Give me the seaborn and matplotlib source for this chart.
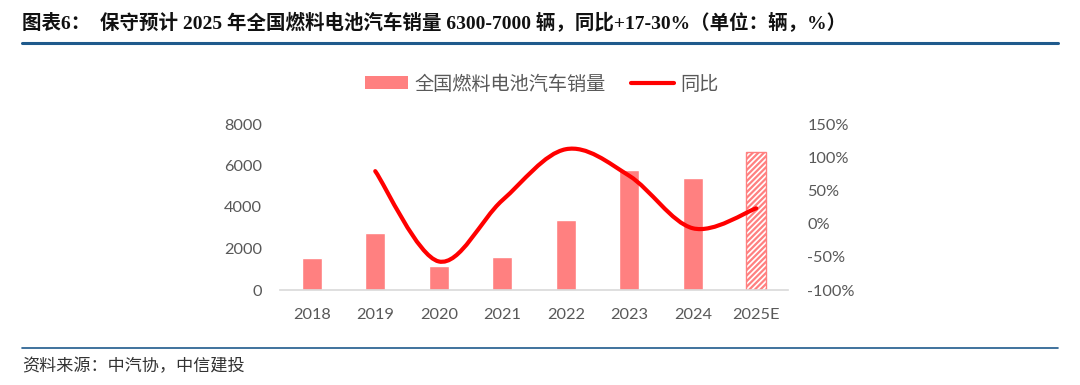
import numpy as np
import pandas as pd
import seaborn as sns
import matplotlib.pyplot as plt
from matplotlib.path import Path
from matplotlib.patches import PathPatch, Patch
from matplotlib.lines import Line2D
from matplotlib.ticker import FuncFormatter

# Data
years = ['2018', '2019', '2020', '2021', '2022', '2023', '2024', '2025E']
sales = [1527, 2737, 1177, 1586, 3367, 5791, 5405, 6650]
yoy_years = [1, 2, 3, 4, 5, 6, 7]          # positions 2019 .. 2025E
yoy = [79, -57, 35, 112, 72, -7, 23]

bar_color = '#FF8080'
gray = '#595959'

sns.set_theme(style='white')
plt.rcParams['font.family'] = ['Lato', 'Noto Sans CJK SC', 'DejaVu Sans']
plt.rcParams['hatch.linewidth'] = 1.6

fig = plt.figure(figsize=(10.8, 3.85), dpi=100)
ax = fig.add_axes([280 / 1080, 95 / 385, 508 / 1080, 166 / 385])

df = pd.DataFrame({'year': years, 'sales': sales})
sns.barplot(data=df, x='year', y='sales', color=bar_color, width=0.31, ax=ax,
            saturation=1)

# forecast bar is hatched
last = ax.patches[-1]
last.set_facecolor('white')
last.set_edgecolor(bar_color)
last.set_hatch('//////')
last.set_linewidth(1.0)

ax.set_xlim(-0.5, 7.5)
ax.set_ylim(0, 8000)
ax.set_yticks([0, 2000, 4000, 6000, 8000])
ax.set_xlabel('')
ax.set_ylabel('')
for s in ['top', 'right', 'left']:
    ax.spines[s].set_visible(False)
ax.spines['bottom'].set_color('#D9D9D9')
ax.spines['bottom'].set_linewidth(1.2)
ax.tick_params(axis='y', length=0, pad=13, labelsize=11.8, labelcolor=gray)
ax.tick_params(axis='x', length=0, pad=13, labelsize=11.8, labelcolor=gray)

# YoY line on secondary axis, smoothed like the original (bezier through points)
ax2 = ax.twinx()
ax2.set_ylim(-100, 150)
ax2.set_yticks([-100, -50, 0, 50, 100, 150])
ax2.yaxis.set_major_formatter(FuncFormatter(lambda v, p: f'{v:.0f}%'))
ax2.tick_params(axis='y', length=0, pad=14, labelsize=11.8, labelcolor=gray)
for s in ax2.spines.values():
    s.set_visible(False)
ax2.grid(False)

pts = np.column_stack([yoy_years, yoy]).astype(float)
ext = np.vstack([pts[0], pts, pts[-1]])
verts = [tuple(pts[0])]
codes = [Path.MOVETO]
for i in range(1, len(ext) - 2):
    p0, p1, p2, p3 = ext[i - 1], ext[i], ext[i + 1], ext[i + 2]
    c1 = p1 + (p2 - p0) / 6
    c2 = p2 - (p3 - p1) / 6
    verts += [tuple(c1), tuple(c2), tuple(p2)]
    codes += [Path.CURVE4] * 3
ax2.add_patch(PathPatch(Path(verts, codes), fill=False, edgecolor='#FF0000',
                        linewidth=3, capstyle='round', joinstyle='round'))

# legend
handles = [Patch(facecolor=bar_color, edgecolor='none'),
           Line2D([0], [0], color='#FF0000', lw=3)]
fig.legend(handles, ['全国燃料电池汽车销量', '同比'], loc='center',
           bbox_to_anchor=(542 / 1080, 1 - 84 / 385), ncol=2, frameon=False,
           handlelength=2.2, handleheight=0.65, handletextpad=0.35,
           columnspacing=1.35,
           prop={'family': ['Noto Sans CJK SC'], 'size': 13.8},
           labelcolor=gray)

# title, rules and source
fig.text(22 / 1080, 1 - 23 / 385,
         '图表6：  保守预计 2025 年全国燃料电池汽车销量 6300-7000 辆，同比+17-30%（单位：辆，%）',
         family=['Liberation Serif', 'Noto Sans CJK SC'], weight='bold',
         fontsize=14, color='#111111', va='center', ha='left')
fig.add_artist(Line2D([22 / 1080, 1058 / 1080], [1 - 43 / 385] * 2,
                      color='#1F5A8C', lw=2.2))
fig.add_artist(Line2D([22 / 1080, 1058 / 1080], [1 - 347.5 / 385] * 2,
                      color='#1F5A8C', lw=1.2))
fig.text(22 / 1080, 1 - 366 / 385, '资料来源：中汽协，中信建投',
         family=['Noto Sans CJK SC'], style='italic', fontsize=12.3,
         color='#333333', va='center', ha='left')

fig.savefig('out.png', dpi=100)
